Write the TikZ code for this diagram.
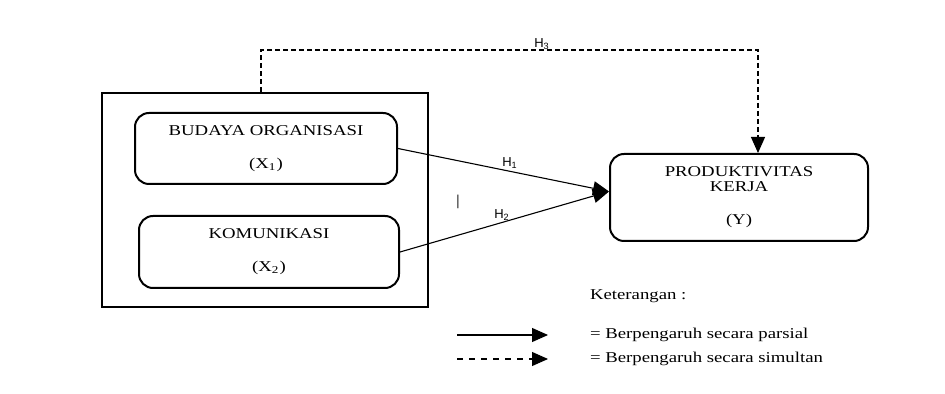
\documentclass[tikz,border=0pt]{standalone}
\usepackage{fontspec}
\setmainfont{Liberation Serif}[FakeStretch=1.25]
\newfontfamily\hfont{Liberation Sans}
\usetikzlibrary{arrows.meta}

\begin{document}
\begin{tikzpicture}[x=0.5pt, y=-0.5pt, font=\fontsize{7.5}{7.5}\selectfont,
		varbox/.style={draw, line width=1pt, rounded corners=7pt, align=center, inner sep=0pt},
		link/.style={line width=0.55pt, -{Triangle[length=8pt, width=7pt]}},
		dotted link/.style={link, dash pattern=on 2.5pt off 1.5pt},
		legend link/.style={link, dash pattern=on 3pt off 3pt},
		hlabel/.style={font=\hfont\fontsize{6.5}{7}\selectfont}]
			\useasboundingbox (0,0) rectangle (945,394);
			\node[draw, line width=1pt, minimum width=163pt, minimum height=107pt] (grp) at (265,200) {};
			\node[varbox, minimum width=131pt, minimum height=35.5pt] (budaya) at (266,148.5) {BUDAYA ORGANISASI\\[9pt](X\textsubscript{1})};
			\node[varbox, minimum width=130pt, minimum height=36pt] (komunikasi) at (269,252) {KOMUNIKASI\\[9pt](X\textsubscript{2})};
			\node[varbox, minimum width=129pt, minimum height=43.5pt] (produktivitas) at (739,197.5) {PRODUKTIVITAS\\KERJA\\[9pt](Y)};
			\coordinate (meet) at ([yshift=3pt]produktivitas.west);
			\coordinate (top) at (500,50);
			\draw[link] (budaya.east) -- (meet);
			\draw[link] (komunikasi.east) -- (meet);
			\draw[dotted link] ([xshift=-2pt]grp.north) |- (top) -| ([xshift=9.5pt]produktivitas.north);
			\node[hlabel] (h1) at (510,163) {H\textsubscript{1}};
			\node[hlabel] (h2) at (502,215) {H\textsubscript{2}};
			\node[hlabel] (h3) at (542,44) {H\textsubscript{3}};
			\node (cursor) at (458,202) {|};
			\node[anchor=west] (keterangan) at (583,296) {Keterangan :};
			\node[anchor=west] (parsial) at (583,335) {= Berpengaruh secara parsial};
			\node[anchor=west] (simultan) at (583,359) {= Berpengaruh secara simultan};
			\coordinate (ps) at (457,335);
			\coordinate (pe) at (548,335);
			\coordinate (ss) at (457,359);
			\coordinate (se) at (548,359);
			\draw[link] (ps) -- (pe);
			\draw[legend link] (ss) -- (se);
	\end{tikzpicture}
\end{document}
